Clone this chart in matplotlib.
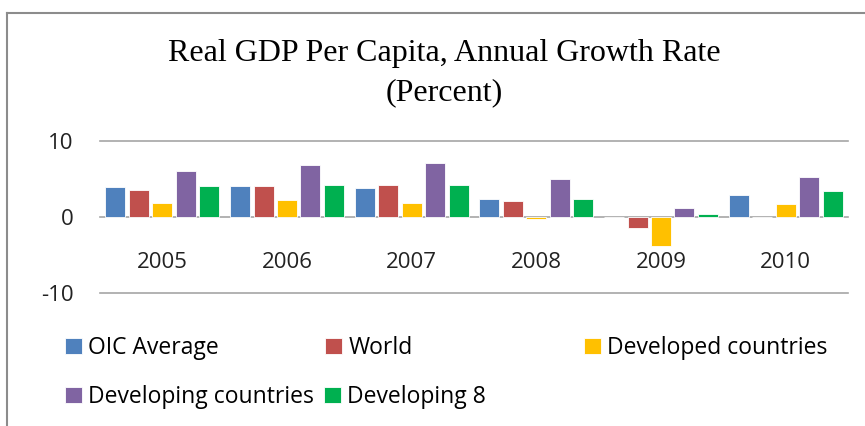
import numpy as np
import matplotlib.pyplot as plt
from matplotlib.lines import Line2D

plt.rcParams['font.family'] = ['Open Sans', 'DejaVu Sans']

# ---- data: real GDP per capita growth (%) ----
years = ['2005', '2006', '2007', '2008', '2009', '2010']
oic_average = [3.9, 4.1, 3.8, 2.4, 0.0, 2.9]
world = [3.6, 4.1, 4.25, 2.1, -1.5, 0.0]
developed = [1.9, 2.2, 1.9, -0.3, -3.85, 1.75]
developing = [6.0, 6.8, 7.1, 4.95, 1.2, 5.3]
developing8 = [4.1, 4.25, 4.25, 2.4, 0.4, 3.45]

series_names = ['OIC Average', 'World', 'Developed countries',
                'Developing countries', 'Developing 8']
series_values = [oic_average, world, developed, developing, developing8]
colors = ['#4f81bd', '#c0504d', '#ffc000', '#8064a2', '#00b050']

fig = plt.figure(figsize=(8.65, 4.26), dpi=100)
ax = fig.add_axes([100 / 865, 1 - 293 / 426, 748 / 865, 152 / 426])

x = np.arange(len(years))
step = 0.188
bw = 0.16
bars = []
for i, (vals, col) in enumerate(zip(series_values, colors)):
    b = ax.bar(x + (i - 2) * step, vals, width=bw, color=col,
               edgecolor='white', linewidth=0.6, zorder=3)
    bars.append(b)

ax.set_xlim(-0.5, len(years) - 0.5)
ax.set_ylim(-10, 10)
ax.set_yticks([-10, 0, 10])
ax.set_yticklabels(['-10', '0', '10'])
for yv in (-10, 0, 10):
    ax.axhline(yv, color='#a6a6a6', linewidth=1.2, zorder=2, clip_on=False)

# category labels hang below the zero line
ax.spines['bottom'].set_position(('data', 0))
for s in ax.spines.values():
    s.set_visible(False)
ax.set_xticks(x)
ax.set_xticklabels(years)
ax.tick_params(axis='x', length=0, pad=25, labelsize=16, colors='#222222')
ax.tick_params(axis='y', length=0, pad=19, labelsize=16, colors='#222222')

# title
fig.text(444 / 865, 1 - 53 / 426, 'Real GDP Per Capita, Annual Growth Rate',
         ha='center', va='center', family='Liberation Serif', fontsize=23)
fig.text(444 / 865, 1 - 93 / 426, '(Percent)',
         ha='center', va='center', family='Liberation Serif', fontsize=23)

# legend entries laid out in two rows
legend_pos = [(65, 348), (325, 348), (584, 348), (65, 397), (324, 397)]
for b, name, (px, py) in zip(bars, series_names, legend_pos):
    fig.legend([b], [name], loc='center left',
               bbox_to_anchor=(px / 865, 1 - py / 426), frameon=False,
               fontsize=16.5, handlelength=0.72, handleheight=0.72,
               handletextpad=0.3, borderpad=0, borderaxespad=0)

# chart frame
fig.add_artist(Line2D([7 / 865, 7 / 865], [0, 1 - 13 / 426],
                      transform=fig.transFigure, color='#8c8c8c', linewidth=1.5))
fig.add_artist(Line2D([7 / 865, 1], [1 - 13 / 426, 1 - 13 / 426],
                      transform=fig.transFigure, color='#8c8c8c', linewidth=1.5))

fig.savefig('out.png', dpi=100)
